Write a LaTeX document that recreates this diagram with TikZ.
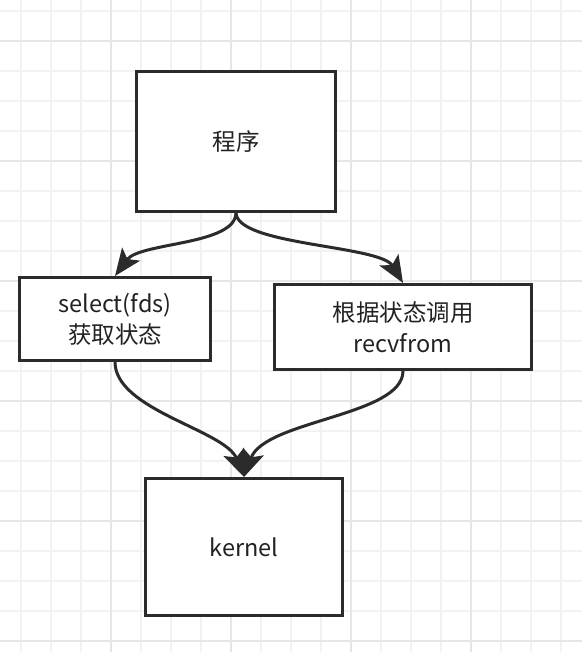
\documentclass[tikz,border=0pt]{standalone}
\usepackage{fontspec}
\setmainfont{Noto Sans CJK SC}
\usetikzlibrary{arrows.meta}
\definecolor{inkgray}{HTML}{2B2B2B}
\definecolor{textgray}{HTML}{222222}
\definecolor{gridminor}{HTML}{F2F2F2}
\definecolor{gridmajor}{HTML}{E6E6E6}
\tikzset{
  procbox/.style={
    draw=inkgray,
    line width=3pt,
    fill=white,
    align=center,
    inner sep=0pt,
    text=textgray,
    font=\fontsize{23.5}{31}\selectfont
  },
  flowarrow/.style={-{Stealth[length=27pt,width=22pt,inset=6pt]}, line width=3pt, draw=inkgray},
  gridline/.style={draw=gridminor, line width=1.5pt},
  gridbold/.style={draw=gridmajor, line width=1.5pt}
}

\begin{document}
\begin{tikzpicture}[x=1pt,y=-1pt]
\useasboundingbox (0,0) rectangle (582,652);
\fill[white] (0,0) rectangle (582,652);
% background grid
\foreach \gx in {21,51,...,561}
  \draw[gridline] (\gx,0) -- (\gx,652);
\foreach \gy in {11,41,...,641}
  \draw[gridline] (0,\gy) -- (582,\gy);
\foreach \gx in {111,231,351,471}
  \draw[gridbold] (\gx,0) -- (\gx,652);
\foreach \gy in {41,161,...,641}
  \draw[gridbold] (0,\gy) -- (582,\gy);

\node[procbox, minimum width=199pt, minimum height=139pt] (prog) at (236,141.5) {程序};
\node[procbox, minimum width=191pt, minimum height=83pt] (sel) at (115,319) {select(fds)\\获取状态};
\node[procbox, minimum width=257pt, minimum height=85pt] (rec) at (403,327) {根据状态调用\\recvfrom};
\node[procbox, minimum width=197pt, minimum height=137pt] (ker) at (244,547) {kernel};

\draw[flowarrow] (prog.south) .. controls +(0,33) and +(25,-34) .. (sel.north);
\draw[flowarrow] (prog.south) .. controls +(0,33) and +(-23,-38) .. (rec.north);
\draw[flowarrow] (sel.south) .. controls +(0,48) and +(-19,-47) .. (ker.north);
\draw[flowarrow] (rec.south) .. controls +(0,45) and +(21,-57) .. (ker.north);
\end{tikzpicture}
\end{document}
